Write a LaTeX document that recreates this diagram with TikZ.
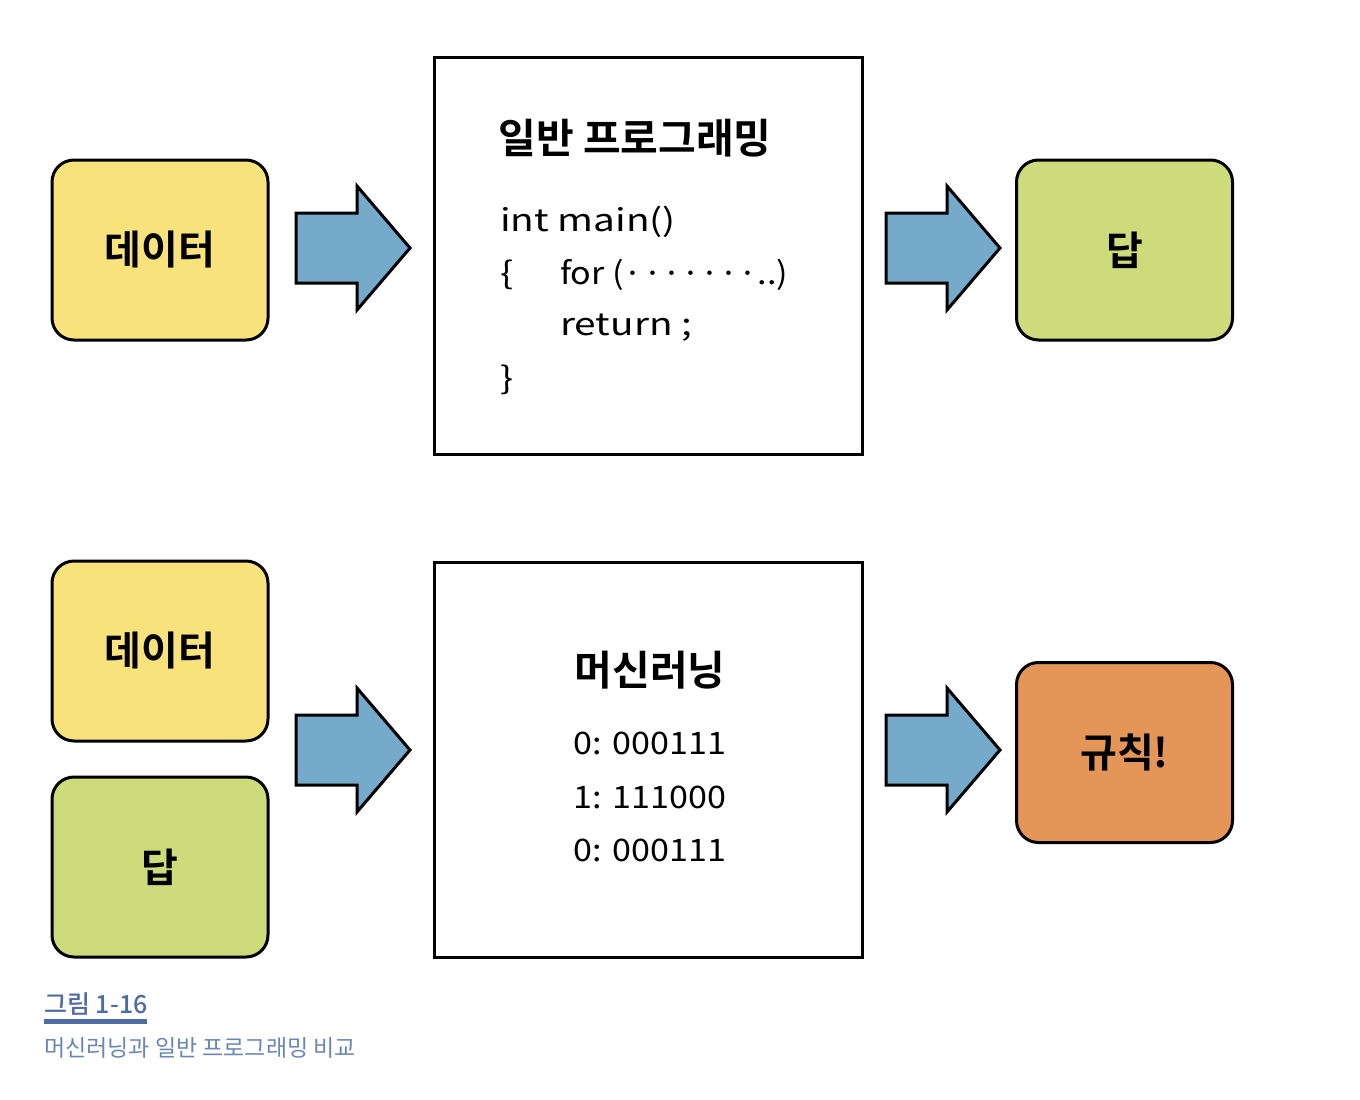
\documentclass[tikz,border=0pt]{standalone}
\usepackage{fontspec}
\setmainfont{Noto Sans CJK KR}
\newfontfamily\kr{Noto Sans CJK KR}
\newfontfamily\krw[FakeStretch=1.25]{Noto Sans CJK KR}
\newfontfamily\krn[FakeStretch=1.1]{Noto Sans CJK KR}
\newfontfamily\krb{Noto Sans CJK KR Bold}
\newfontfamily\krm{Noto Sans CJK KR Medium}
\definecolor{cyellow}{HTML}{F8E27C}
\definecolor{cgreen}{HTML}{CDDB7A}
\definecolor{corange}{HTML}{E49558}
\definecolor{carrow}{HTML}{76AACB}
\definecolor{ccap}{HTML}{4F6C9F}
\definecolor{ccap2}{HTML}{6A86B4}
\tikzset{
  card/.style={draw=black, line width=3pt, rounded corners=22pt, minimum width=216pt, minimum height=180pt, inner sep=0pt, font=\krb\fontsize{40}{46}\selectfont},
  panel/.style={draw=black, line width=3pt, inner sep=0pt},
  bigarrow/.style={draw=black, line width=3pt, fill=carrow, line join=miter},
  code/.style={anchor=west, inner sep=0pt, font=\krw\fontsize{31}{34}\selectfont},
  bin/.style={inner sep=0pt, font=\krn\fontsize{31}{34}\selectfont},
  ttl/.style={inner sep=0pt, font=\krb\fontsize{41}{46}\selectfont}
}
\newcommand{\fatarrow}[2]{%
  \draw[bigarrow] (#1,#2-35) -- (#1+61,#2-35) -- (#1+61,#2-62) -- (#1+114,#2) -- (#1+61,#2+62) -- (#1+61,#2+35) -- (#1,#2+35) -- cycle;}
\begin{document}
\begin{tikzpicture}[x=1pt,y=-1pt]
\useasboundingbox[fill=white] (0,0) rectangle (1360,1100);
% top row
\node[card, fill=cyellow] (d1) at (160,250) {데이터};
\fatarrow{296}{248}
\node[panel, minimum width=428pt, minimum height=397pt] (p1) at (648,255.5) {};
\node[ttl] (t1) at (635,138) {일반 프로그래밍};
\node[code] (c1) at (500,222) {int main()};
\node[code] (c2) at (500,275) {\{};
\node[code, font=\krn\fontsize{31}{34}\selectfont] (c3) at (560,275) {for (·······..)};
\node[code] (c4) at (560,328) {return ;};
\node[code] (c5) at (500,380) {\}};
\fatarrow{886}{248}
\node[card, fill=cgreen] (a1) at (1124.5,250) {답};
% bottom row
\node[card, fill=cyellow] (d2) at (160,651) {데이터};
\node[card, fill=cgreen] (a2) at (160,867) {답};
\fatarrow{296}{750}
\node[panel, minimum width=428pt, minimum height=395pt] (p2) at (648,759.5) {};
\node[ttl] (t2) at (650,670) {머신러닝};
\node[bin] (b1) at (650,743) {0: 000111};
\node[bin] (b2) at (650,797) {1: 111000};
\node[bin] (b3) at (650,850) {0: 000111};
\fatarrow{886}{750}
\node[card, fill=corange] (r1) at (1124.5,752.5) {규칙!};
% caption
\node[anchor=west, inner sep=0pt, text=ccap, font=\krm\fontsize{25}{28}\selectfont] (cap1) at (44,1004) {그림 1-16};
\fill[ccap] (44,1019) rectangle (147,1024);
\node[anchor=west, inner sep=0pt, text=ccap2, font=\kr\fontsize{23}{28}\selectfont] (cap2) at (44,1048) {머신러닝과 일반 프로그래밍 비교};
\end{tikzpicture}
\end{document}
